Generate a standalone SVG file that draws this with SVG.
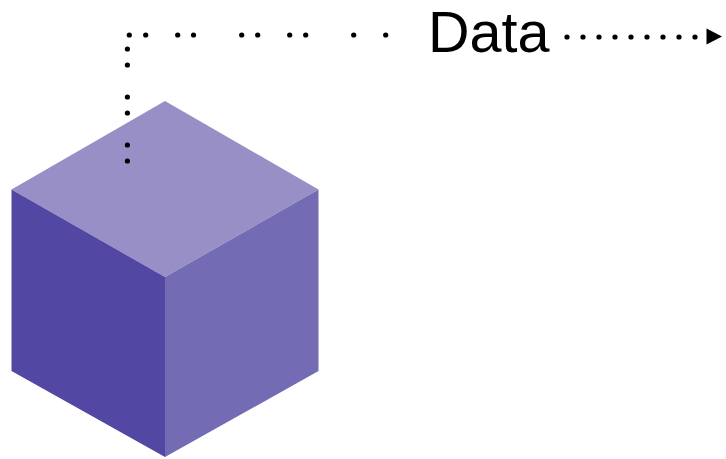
<svg xmlns="http://www.w3.org/2000/svg" width="726" height="459" viewBox="0 0 726 459">
<style>
.dot{fill:#000}
text{font-family:"Liberation Sans",Arial,sans-serif;font-size:57.5px;fill:#000}
</style>
<defs><circle id="d" class="dot" r="2.6"/></defs>
<rect width="726" height="459" fill="#fff"/>
<g id="cube">
<polygon points="165,101 318.5,189.5 165,277 11.5,189.5" fill="#998fc7"/>
<polygon points="11.5,189.5 165,277 165,457 11.5,371" fill="#5247a3"/>
<polygon points="318.5,189.5 318.5,371 165,457 165,277" fill="#746bb5"/>
</g>
<g id="connectors">
<use href="#d" x="129.3" y="35"/><use href="#d" x="145.7" y="35"/><use href="#d" x="177.7" y="35"/><use href="#d" x="193.5" y="35"/><use href="#d" x="241.7" y="35"/><use href="#d" x="257.7" y="35"/><use href="#d" x="289.7" y="35"/><use href="#d" x="305.7" y="35"/><use href="#d" x="353.7" y="35"/><use href="#d" x="385.7" y="35"/>
<use href="#d" x="127.4" y="49"/><use href="#d" x="127.4" y="65"/><use href="#d" x="127.4" y="97"/><use href="#d" x="127.4" y="113"/><use href="#d" x="127.4" y="145"/><use href="#d" x="127.4" y="161"/>
<use href="#d" x="567" y="37"/><use href="#d" x="583" y="37"/><use href="#d" x="599" y="37"/><use href="#d" x="615" y="37"/><use href="#d" x="631" y="37"/><use href="#d" x="647" y="37"/><use href="#d" x="663" y="37"/><use href="#d" x="679" y="37"/><use href="#d" x="695" y="37"/>
<polygon points="706.5,28.5 722,36.5 706.5,44.5" fill="#000"/>
</g>
<g id="data"><text x="428" y="52">Data</text></g>
</svg>
